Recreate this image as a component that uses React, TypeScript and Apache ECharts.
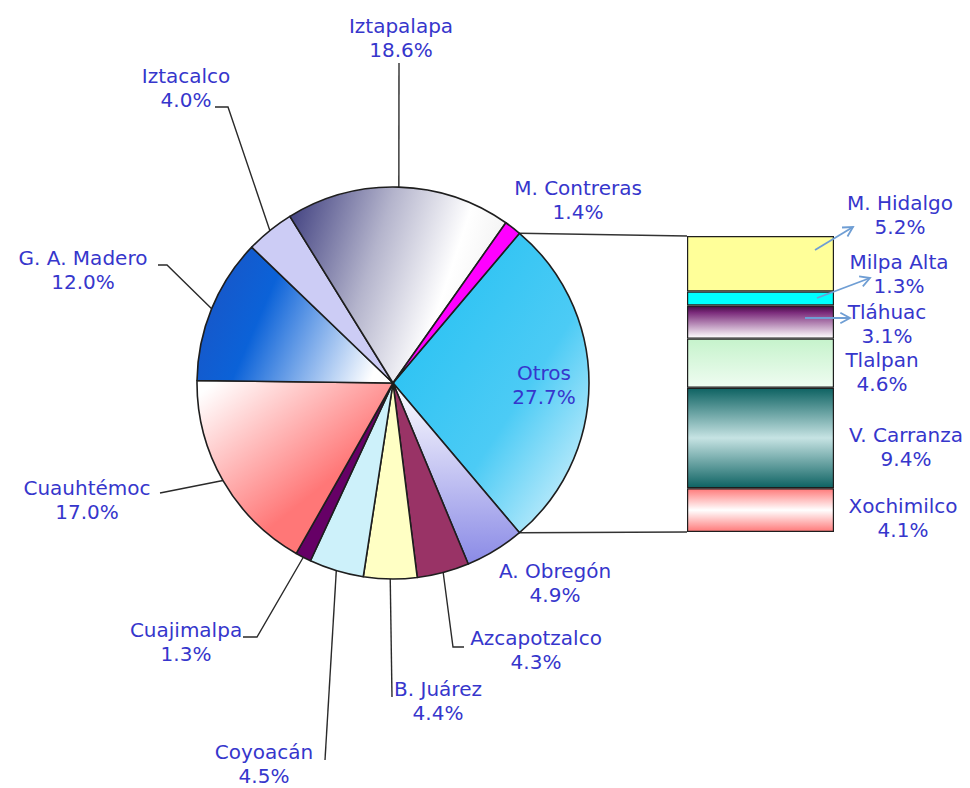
import React, { useEffect, useRef } from 'react';
import * as echarts from 'echarts';

// ---------------- DATA ----------------
const pieNames = ['Otros', 'A. Obregón', 'Azcapotzalco', 'B. Juárez', 'Coyoacán', 'Cuajimalpa', 'Cuauhtémoc', 'G. A. Madero', 'Iztacalco', 'Iztapalapa', 'M. Contreras'];
const pieValues = [27.7, 4.9, 4.3, 4.4, 4.5, 1.3, 17.0, 12.0, 4.0, 18.6, 1.4];
const barNames = ['M. Hidalgo', 'Milpa Alta', 'Tláhuac', 'Tlalpan', 'V. Carranza', 'Xochimilco'];
const barValues = [5.2, 1.3, 3.1, 4.6, 9.4, 4.1];

// ---------------- STYLES ----------------
const lg = (x: number, y: number, x2: number, y2: number, stops: [number, string][]) =>
  new echarts.graphic.LinearGradient(x, y, x2, y2, stops.map(([offset, color]) => ({ offset, color })));

const pieColors: any[] = [
  lg(0, 0, 1, 1, [[0, '#1dbff2'], [0.6, '#4ccbf5'], [1, '#e8f7fd']]),
  lg(0, 0, 0, 1, [[0, '#ffffff'], [1, '#8a8ae6']]),
  '#993366',
  '#ffffc4',
  '#cdf1fa',
  '#660066',
  lg(0.1, 0, 0.65, 0.6, [[0, '#ffffff'], [1, '#ff7777']]),
  lg(0, 0.3, 1, 0.6, [[0, '#1a55c6'], [0.35, '#0b62d8'], [1, '#ffffff']]),
  '#ccccf5',
  lg(0, 0, 1, 0.3, [[0, '#3a3a7c'], [0.45, '#b4b4cc'], [0.8, '#ffffff'], [1, '#f2f2f2']]),
  '#ff00ff',
];
const barColors: any[] = [
  '#ffff99',
  '#00ffff',
  lg(0, 0, 0, 1, [[0, '#400a40'], [0.2, '#7a2a7a'], [1, '#ffffff']]),
  lg(0, 0, 0, 1, [[0, '#c6f3cc'], [1, '#effcf1']]),
  lg(0, 0, 0, 1, [[0, '#0e6363'], [0.5, '#c6e3e3'], [1, '#0e6363']]),
  lg(0, 0, 0, 1, [[0, '#ff7a7a'], [0.5, '#ffffff'], [1, '#ff7a7a']]),
];

const TEXT_COLOR = '#3636cc';
const FONT = 'DejaVu Sans';
const FONT_SIZE = 20;
const LINE_H = 24;

// ---------------- LAYOUT ----------------
const PIE_CX = 393;
const PIE_CY = 383;
const PIE_R = 196;
const GRID_LEFT = 687;
const GRID_TOP = 236;
const GRID_W = 147;
const GRID_H = 296;

// label centers and leader-line bend points (after the point on the slice edge)
const pieLabelLayout: { x: number; y: number; line?: number[][] }[] = [
  { x: 544, y: 385 }, // Otros
  { x: 555, y: 583 }, // A. Obregón
  { x: 536, y: 650, line: [[453, 647], [464, 647]] }, // Azcapotzalco
  { x: 438, y: 701, line: [[392, 697]] }, // B. Juárez
  { x: 264, y: 764, line: [[325, 760]] }, // Coyoacán
  { x: 186, y: 642, line: [[257, 637], [243, 637]] }, // Cuajimalpa
  { x: 87, y: 500, line: [[160, 493]] }, // Cuauhtémoc
  { x: 83, y: 270, line: [[167, 265], [158, 265]] }, // G. A. Madero
  { x: 186, y: 88, line: [[228, 107], [215, 107]] }, // Iztacalco
  { x: 401, y: 38, line: [[399, 63]] }, // Iztapalapa
  { x: 578, y: 200 }, // M. Contreras
];
const barLabelLayout = [
  { x: 900, y: 215 },
  { x: 899, y: 274 },
  { x: 887, y: 324 },
  { x: 882, y: 372 },
  { x: 906, y: 447 },
  { x: 903, y: 518 },
];
const arrows = [
  [815, 250, 853, 227],
  [817, 298, 870, 278],
  [805, 318, 850, 318],
];

function arrowGraphic([x1, y1, x2, y2]: number[]) {
  const ang = Math.atan2(y2 - y1, x2 - x1);
  const h = 11;
  const spread = 0.5;
  const p1 = [x2 - h * Math.cos(ang - spread), y2 - h * Math.sin(ang - spread)];
  const p2 = [x2 - h * Math.cos(ang + spread), y2 - h * Math.sin(ang + spread)];
  const style = { stroke: '#6f9ed4', lineWidth: 1.8, fill: 'none' };
  return [
    { type: 'line', z: 100, shape: { x1, y1, x2, y2 }, style },
    { type: 'polyline', z: 100, shape: { points: [p1, [x2, y2], p2] }, style },
  ];
}

export default function App() {
  const ref = useRef<HTMLDivElement>(null);
  useEffect(() => {
    if (!ref.current) return;
    const chart = echarts.init(ref.current, undefined, { renderer: 'svg' });
    const pieTotal = pieValues.reduce((a, b) => a + b, 0);
    const barTotal = barValues.reduce((a, b) => a + b, 0);
    const halfAngle = (pieValues[0] / pieTotal) * 180;
    const rad = (halfAngle * Math.PI) / 180;
    const upper = [PIE_CX + PIE_R * Math.cos(rad), PIE_CY - PIE_R * Math.sin(rad)];
    const lower = [PIE_CX + PIE_R * Math.cos(rad), PIE_CY + PIE_R * Math.sin(rad)];
    const connStyle = { stroke: '#333333', lineWidth: 1.5 };

    const textStyle = {
      color: TEXT_COLOR,
      fontFamily: FONT,
      fontSize: FONT_SIZE,
      lineHeight: LINE_H,
    };

    const option: any = {
      animation: false,
      backgroundColor: '#ffffff',
      grid: { left: GRID_LEFT, top: GRID_TOP, width: GRID_W, height: GRID_H },
      xAxis: { type: 'category', data: ['Otros'], show: false },
      yAxis: { type: 'value', min: 0, max: barTotal, inverse: true, show: false },
      series: [
        {
          type: 'pie',
          center: [PIE_CX, PIE_CY],
          radius: PIE_R,
          startAngle: halfAngle,
          clockwise: true,
          avoidLabelOverlap: false,
          itemStyle: { borderColor: '#1e1e1e', borderWidth: 1.6 },
          label: {
            show: true,
            position: 'outside',
            ...textStyle,
            formatter: (p: any) => `${p.name}\n${Number(p.value).toFixed(1)}%`,
          },
          labelLine: { show: true, length: 10, length2: 10, lineStyle: { color: '#2a2a2a', width: 1.4 } },
          labelLayout: (p: any) => {
            const L = pieLabelLayout[p.dataIndex];
            const res: any = { x: L.x, y: L.y, align: 'center', verticalAlign: 'middle' };
            if (L.line && p.labelLinePoints) {
              res.labelLinePoints = [p.labelLinePoints[0], ...L.line];
            }
            return res;
          },
          data: pieNames.map((name, i) => ({
            name,
            value: pieValues[i],
            itemStyle: { color: pieColors[i] },
            labelLine: { show: !!pieLabelLayout[i].line },
          })),
        },
        ...barNames.map((name, i) => ({
          type: 'bar',
          name,
          stack: 'otros',
          barWidth: '100%',
          data: [barValues[i]],
          itemStyle: { color: barColors[i], borderColor: '#1e1e1e', borderWidth: 1.2 },
          label: {
            show: true,
            position: 'right',
            ...textStyle,
            formatter: () => `${name}\n${barValues[i].toFixed(1)}%`,
          },
          labelLayout: () => ({
            x: barLabelLayout[i].x,
            y: barLabelLayout[i].y,
            align: 'center',
            verticalAlign: 'middle',
          }),
        })),
      ],
      graphic: [
        { type: 'line', shape: { x1: upper[0], y1: upper[1], x2: GRID_LEFT, y2: GRID_TOP }, style: connStyle },
        { type: 'line', shape: { x1: lower[0], y1: lower[1], x2: GRID_LEFT, y2: GRID_TOP + GRID_H }, style: connStyle },
        ...arrows.flatMap(arrowGraphic),
      ],
    };
    chart.setOption(option);
    return () => chart.dispose();
  }, []);
  return <div ref={ref} style={{ position: 'fixed', left: 0, top: 0, width: 970, height: 788 }} />;
}
